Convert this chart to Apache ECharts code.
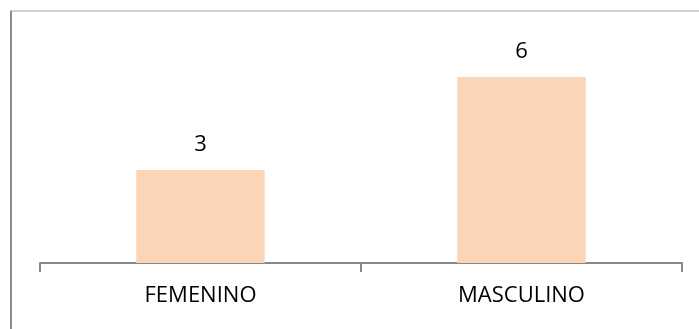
<!DOCTYPE html>
<html>
<head>
    <meta charset="utf-8">
    <script src="https://cdn.jsdelivr.net/npm/echarts@6/dist/echarts.min.js"></script>
    <title>Sexo</title>
    <style>
        html, body { margin: 0; padding: 0; background: #fff; }
    </style>
</head>
<body>
    <div id="main" style="width: 699px;height:329px;"></div>
    <script type="text/javascript">
    var categories = ['FEMENINO', 'MASCULINO'];
    var values = [3, 6];

    var myChart = echarts.init(document.getElementById('main'));
    var option = {
        animation: false,
        textStyle: { fontFamily: 'Open Sans' },
        grid: { left: 40, right: 17, top: 46, bottom: 66 },
        graphic: [
            { type: 'line', shape: { x1: 10, y1: 11, x2: 699, y2: 11 }, style: { stroke: '#bfbfbf', lineWidth: 1.5 } },
            { type: 'line', shape: { x1: 11, y1: 11, x2: 11, y2: 329 }, style: { stroke: '#8c8c8c', lineWidth: 2 } }
        ],
        xAxis: {
            type: 'category',
            data: categories,
            axisLine: { lineStyle: { color: '#888', width: 2 } },
            axisTick: { show: true, alignWithLabel: false, length: 9, lineStyle: { color: '#888', width: 2 } },
            axisLabel: { color: '#000', fontSize: 22, margin: 22 }
        },
        yAxis: {
            type: 'value',
            min: 0,
            max: 7,
            show: false
        },
        series: [{
            type: 'bar',
            data: values,
            barWidth: '40%',
            itemStyle: { color: '#fbd5b5' },
            label: { show: true, position: 'top', distance: 14, color: '#000', fontSize: 22 }
        }]
    };
    myChart.setOption(option);
    </script>
</body>
</html>
